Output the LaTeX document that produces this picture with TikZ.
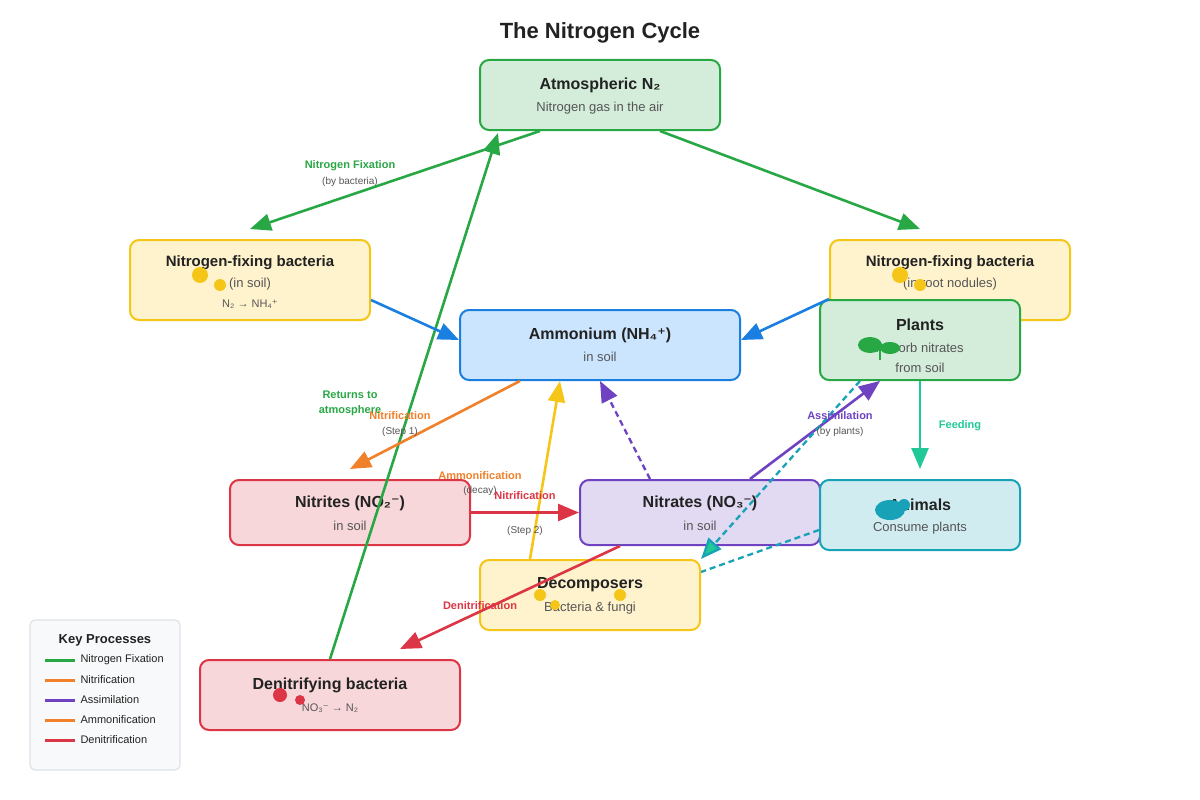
\documentclass[tikz,border=0pt]{standalone}
\usepackage{fontspec}
\setmainfont{Liberation Sans}
\newfontfamily\djv{DejaVu Sans}
\newcommand{\supplus}{{\djv ⁺}}
\newcommand{\supminus}{{\djv ⁻}}
\usetikzlibrary{arrows.meta,calc}
\definecolor{gF}{HTML}{28A745}\definecolor{gB}{HTML}{D4EDDA}
\definecolor{yF}{HTML}{F5C518}\definecolor{yB}{HTML}{FFF3CD}
\definecolor{bF}{HTML}{1A7FE0}\definecolor{bB}{HTML}{CCE5FF}
\definecolor{rF}{HTML}{DC3545}\definecolor{rB}{HTML}{F8D7DA}
\definecolor{pF}{HTML}{6F42C1}\definecolor{pB}{HTML}{E2D9F3}
\definecolor{cF}{HTML}{17A2B8}\definecolor{cB}{HTML}{D1ECF1}
\definecolor{oF}{HTML}{F0802A}\definecolor{tF}{HTML}{20C997}
\definecolor{txt}{HTML}{222222}\definecolor{sub}{HTML}{555555}
\definecolor{lgB}{HTML}{F8F9FA}\definecolor{lgF}{HTML}{DEE2E6}
\tikzset{
 box/.style={draw=#1F,fill=#1B,line width=2pt,rounded corners=9pt,inner sep=0pt},
 ttl/.style={font=\fontsize{16}{18}\selectfont\bfseries,text=txt},
 st/.style={font=\fontsize{13}{15}\selectfont,text=sub},
 smt/.style={font=\fontsize{11}{13}\selectfont,text=sub},
 lab/.style={font=\fontsize{11}{13}\selectfont\bfseries,text=#1},
 note/.style={font=\fontsize{10}{12}\selectfont,text=sub},
 ar/.style={draw=#1,line width=2.6pt,-{Triangle[length=21pt,width=17pt,fill=#1]}},
 dsh/.style={dash pattern=on 6pt off 4pt,line width=2.3pt},
 lg/.style={font=\fontsize{11}{13}\selectfont,text=txt,anchor=west},
}
\begin{document}
\begin{tikzpicture}[x=1pt,y=-1pt]
\useasboundingbox (0,0) rectangle (1200,800);
\node[font=\fontsize{22}{26}\selectfont\bfseries,text=txt] at (600,33) {The Nitrogen Cycle};
% boxes
\node[box=g,minimum width=240pt,minimum height=70pt] (atm) at (600,95) {};
\node[box=y,minimum width=240pt,minimum height=80pt] (nfl) at (250,280) {};
\node[box=y,minimum width=240pt,minimum height=80pt] (nfr) at (950,280) {};
\node[box=b,minimum width=280pt,minimum height=70pt] (amm) at (600,345) {};
\node[box=r,minimum width=240pt,minimum height=65pt] (nit) at (350,512.5) {};
\node[box=p,minimum width=240pt,minimum height=65pt] (nat) at (700,512.5) {};
\node[box=c,minimum width=200pt,minimum height=70pt] (ani) at (920,515) {};
\node[box=y,minimum width=220pt,minimum height=70pt] (dec) at (590,595) {};
\node[box=r,minimum width=260pt,minimum height=70pt] (den) at (330,695) {};
\node[draw=lgF,fill=lgB,line width=1.2pt,rounded corners=5pt,minimum width=150pt,minimum height=150pt] (leg) at (105,695) {};
% texts
\node[ttl] (t1) at (600,85) {Atmospheric N₂};
\node[st] (s1) at (600,108) {Nitrogen gas in the air};
\node[font=\fontsize{15}{17}\selectfont\bfseries,text=txt] (t2) at (250,263) {Nitrogen-fixing bacteria};
\node[st] (s2) at (250,284) {(in soil)};
\node[smt] (s2b) at (250,304) {N₂ → NH₄\supplus};
\node[font=\fontsize{15}{17}\selectfont\bfseries,text=txt] (t3) at (950,263) {Nitrogen-fixing bacteria};
\node[st] (s3) at (950,284) {(in root nodules)};
\node[box=g,minimum width=200pt,minimum height=80pt] (pl) at (920,340) {};
\node[ttl] (t4) at (920,325) {Plants};
\node[st] (s4) at (920,348) {Absorb nitrates};
\node[st] (s4b) at (920,368) {from soil};
\node[ttl] (t5) at (600,335) {Ammonium (NH₄\supplus)};
\node[st] (s5) at (600,357) {in soil};
\node[ttl] (t6) at (350,503) {Nitrites (NO₂\supminus)};
\node[st] (s6) at (350,526) {in soil};
\node[ttl] (t7) at (700,503) {Nitrates (NO₃\supminus)};
\node[st] (s7) at (700,526) {in soil};
\node[ttl] (t8) at (920,505) {Animals};
\node[st] (s8) at (920,528) {Consume plants};
\node[ttl] (t9) at (590,585) {Decomposers};
\node[st] (s9) at (590,608) {Bacteria \& fungi};
\node[ttl] (t10) at (330,685) {Denitrifying bacteria};
\node[smt] (s10) at (330,708) {NO₃\supminus{} → N₂};
% edges
\draw[ar=gF] ($(atm.south)+(-60,0)$) -- ($(nfl.north)+(0,-10)$);
\draw[ar=gF] ($(atm.south)+(60,0)$) -- ($(nfr.north)+(-30,-10)$);
\draw[ar=gF] ($(den.north)+(0,0)$) -- ($(atm.south)+(-102,2)$);
\draw[ar=bF] ($(nfl.east)+(0,20)$) -- ($(amm.west)+(0,-5)$);
\draw[ar=bF] ($(pl.north west)+(10,0)$) -- ($(amm.east)+(0,-5)$);
\draw[ar=oF] ($(amm.south)+(-80,0)$) -- ($(nit.north)+(0,-10)$);
\draw[ar=yF] ($(dec.north)+(-60,0)$) -- ($(amm.south)+(-40,0)$);
\draw[ar=pF,dsh] ($(nat.north)+(-50,0)$) -- ($(amm.south)+(0,0)$);
\draw[ar=rF] (nit.east) -- (nat.west);
\draw[ar=pF] ($(nat.north)+(50,0)$) -- ($(pl.south)+(-40,0)$);
\draw[draw=cF,dsh,-{Triangle[length=21pt,width=17pt,fill=tF]}] ($(pl.south)+(-60,0)$) -- ($(dec.north east)+(0,0)$);
\draw[draw=cF,dsh] ($(ani.west)+(0,15)$) -- ($(dec.east)+(0,-23)$);
\draw[ar=tF] (pl.south) -- ($(ani.north)+(0,-10)$);
\draw[ar=rF] ($(nat.south)+(-80,0)$) -- ($(den.north)+(70,-10)$);
% labels
\node[lab=gF] (l1) at (350,166) {Nitrogen Fixation};
\node[note] (l1b) at (350,182) {(by bacteria)};
\node[lab=gF,align=center,font=\fontsize{11}{15}\selectfont\bfseries] (l2) at (350,403) {Returns to\\atmosphere};
\node[lab=oF] (l3) at (400,416) {Nitrification};
\node[note] (l3b) at (400,432) {(Step 1)};
\node[lab=oF] (l4) at (480,476) {Ammonification};
\node[note] (l4b) at (480,491) {(decay)};
\node[lab=rF] (l5) at (525,496) {Nitrification};
\node[note] (l5b) at (525,531) {(Step 2)};
\node[lab=pF] (l6) at (840,416) {Assimilation};
\node[note] (l6b) at (840,432) {(by plants)};
\node[lab=tF] (l7) at (960,426) {Feeding};
\node[lab=rF] (l8) at (480,606) {Denitrification};
% decorations
\fill[yF] (200,275) circle (8pt) (220,285) circle (6pt);
\fill[yF] (900,275) circle (8pt) (920,285) circle (6pt);
\fill[gF] (870,345) ellipse (12pt and 8pt) (890,348) ellipse (10pt and 6pt);
\draw[gF,line width=1.5pt] (880,347) -- (880,360);
\fill[cF] (890,510) ellipse (15pt and 10pt) (904,505) circle (6pt);
\fill[yF] (540,595) circle (6pt) (555,605) circle (5pt) (620,595) circle (6pt);
\fill[rF] (280,695) circle (7pt) (300,700) circle (5pt);
% legend
\node[font=\fontsize{13}{15}\selectfont\bfseries,text=txt] (lt) at (105,640) {Key Processes};
\foreach \c/\t [count=\i] in {gF/Nitrogen Fixation,oF/Nitrification,pF/Assimilation,oF/Ammonification,rF/Denitrification}{
  \draw[\c,line width=3pt] (45,640+20*\i) -- (75,640+20*\i);
  \node[lg] (lg\i) at (77,640+20*\i) {\t};
}
\end{tikzpicture}
\end{document}
